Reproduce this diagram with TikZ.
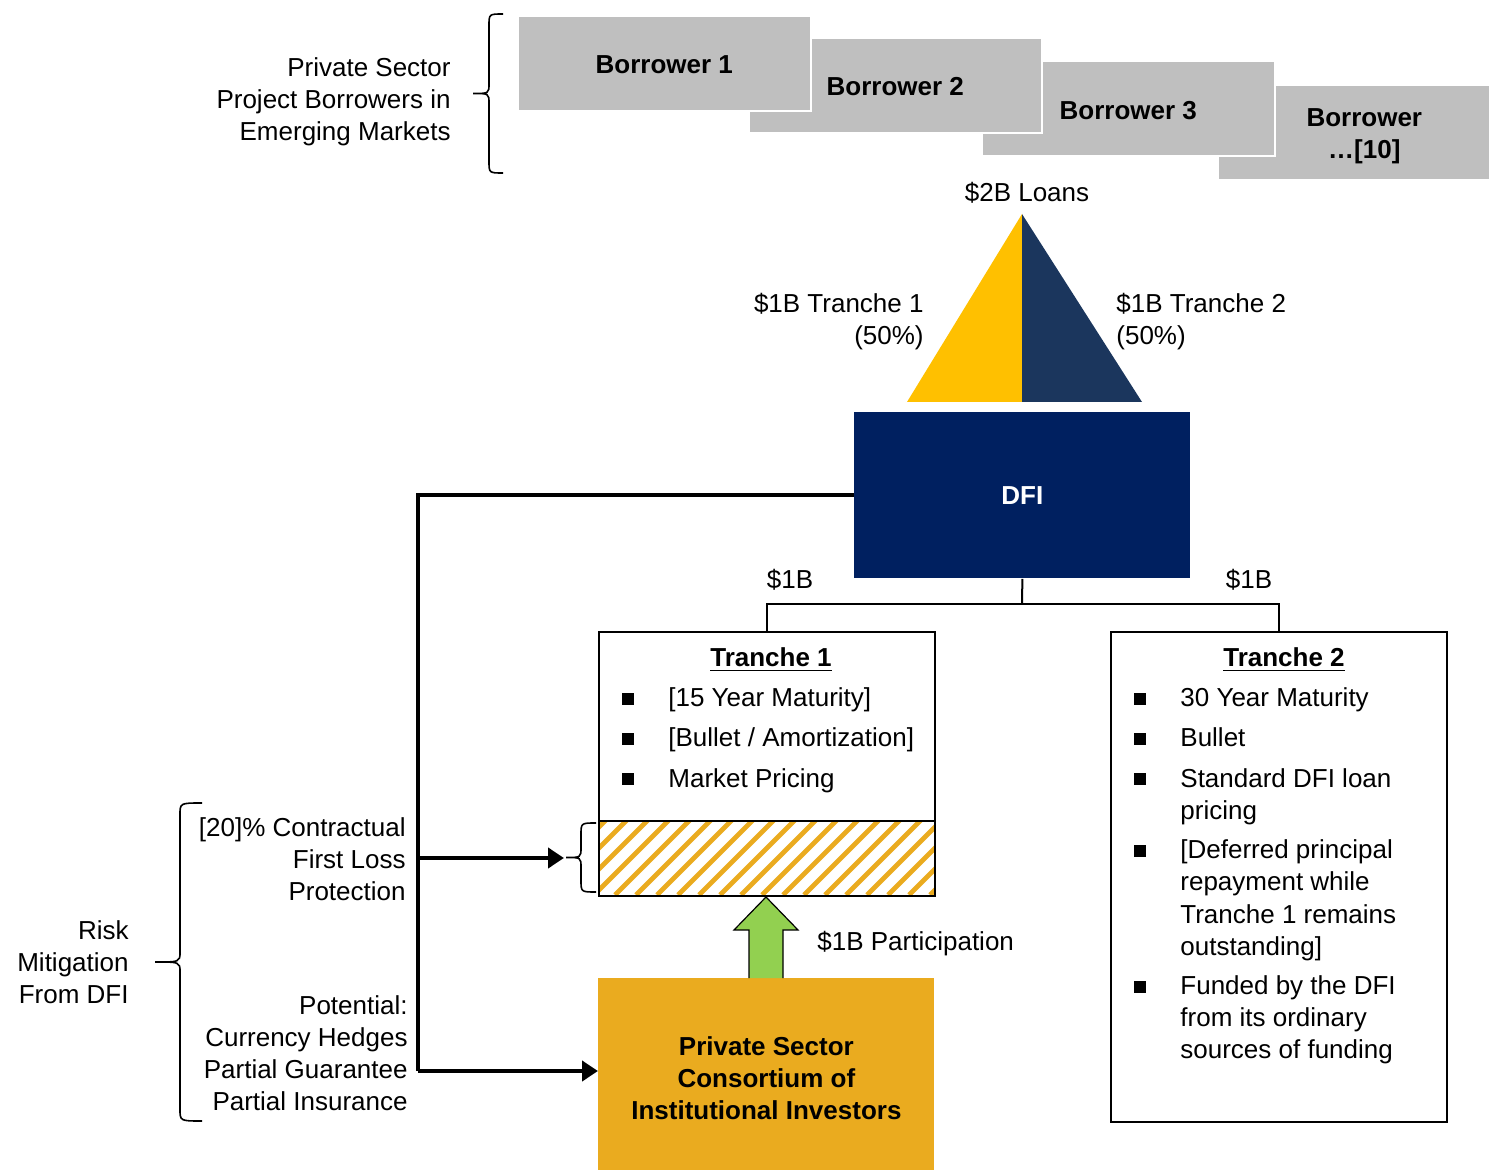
\documentclass[tikz,border=0pt]{standalone}
\usepackage{fontspec}
\setmainfont{Liberation Sans}
\usetikzlibrary{arrows.meta, calc}

\definecolor{boxgray}{HTML}{BFBFBF}
\definecolor{trgold}{HTML}{FFC000}
\definecolor{trnavy}{HTML}{1B365D}
\definecolor{dfiblue}{HTML}{002060}
\definecolor{consgold}{HTML}{EAAB1F}
\definecolor{partgreen}{HTML}{92D050}

\newcommand{\sqbul}{\rule[1pt]{6pt}{6pt}}
% left curly bracket: end x, line x, tip x, top y, bottom y
\newcommand{\leftbracket}[5]{%
    \draw[bracket] (#1,#4) .. controls (#2,#4) .. (#2,{#4+12})
        -- (#2,{(#4+#5)/2-10}) .. controls (#2,{(#4+#5)/2}) .. (#3,{(#4+#5)/2})
        .. controls (#2,{(#4+#5)/2}) .. (#2,{(#4+#5)/2+10})
        -- (#2,{#5-12}) .. controls (#2,#5) .. (#1,#5);}

\begin{document}
\begin{tikzpicture}[
    x=0.5pt, y=-0.5pt,
    font=\fontsize{13}{16}\selectfont,
    borrower/.style={fill=boxgray, draw=white, line width=0.8pt, anchor=north west,
        minimum width=146.5pt, minimum height=47.5pt, inner sep=0pt,
        font=\fontsize{13}{16}\selectfont\bfseries, align=center},
    txt/.style={inner sep=0pt},
    tranchebox/.style={draw=black, line width=1pt, anchor=north west, inner sep=0pt,
        minimum width=168pt},
    treeline/.style={line width=1pt},
    fatline/.style={line width=2pt},
    fatarrow/.style={line width=2pt, -{Triangle[length=8pt, width=10pt]}},
    bracket/.style={line width=0.8pt},
    hatchline/.style={consgold, line width=2.4pt},
]

\useasboundingbox (0,0) rectangle (1489,1170);

% =============================================================================
% Borrowers
% =============================================================================
\node[txt, anchor=east, align=right] (prjlabel) at (451,102)
    {Private Sector\\Project Borrowers in\\Emerging Markets};
\leftbracket{503}{489}{473}{14}{173}

\node[borrower] (bor4) at (1217,84) {\rule{0pt}{13.4pt}Borrower\\\ldots[10]};
\node[borrower] (bor3) at (981,60) {\rule{0pt}{11.4pt}Borrower 3};
\node[borrower] (bor2) at (748,37) {\rule{0pt}{10.4pt}Borrower 2};
\node[borrower] (bor1) at (517,15) {\rule{0pt}{10.4pt}Borrower 1};

% =============================================================================
% Loan split triangle
% =============================================================================
\coordinate (apex) at (1022,214);
\coordinate (baseL) at (907,402);
\coordinate (baseM) at (1022,402);
\coordinate (baseR) at (1142,402);
\fill[trgold] (apex) -- (baseL) -- (baseM) -- cycle;
\fill[trnavy] (apex) -- (baseM) -- (baseR) -- cycle;

\node[txt] (loans) at (1027,193) {\$2B Loans};
\node[txt, anchor=east, align=right] (tr1lab) at (924,322) {\$1B Tranche 1\\(50\%)};
\node[txt, anchor=west, align=left] (tr2lab) at (1116,322) {\$1B Tranche 2\\(50\%)};

% =============================================================================
% DFI and tranches
% =============================================================================
\node[fill=dfiblue, anchor=north west, minimum width=168pt, minimum height=83pt,
    inner sep=0pt, text=white, font=\fontsize{13}{16}\selectfont\bfseries] (dfi) at (854,412) {DFI};

% --- Hatched first loss slice ---
\begin{scope}
    \clip (598,820) rectangle (934,895);
    \foreach \x in {510,531,...,940} {
        \draw[hatchline] (\x,895) -- ++(75,-75);
    }
\end{scope}

\node[tranchebox, minimum height=132pt] (t1) at (598,631) {};
\node[tranchebox, minimum height=37.5pt] (t1risk) at (598,820) {};
\node[tranchebox, minimum height=245pt] (t2) at (1110,631) {};

\coordinate (split) at (1022,604);
\draw[treeline] (dfi.south) -- (split);
\draw[treeline] (t1.north) |- (split) -| (t2.north);
\node[txt] (amt1) at (790,580) {\$1B};
\node[txt] (amt2) at (1249,580) {\$1B};

% --- Tranche contents ---
\node[txt, anchor=base] (t1title) at (771,667) {\bfseries\underline{Tranche 1}};
\node[txt, anchor=base west] (t1list) at (622,707) {%
    \begin{tabular}[t]{@{}p{23pt}@{}l@{}}
    \sqbul & [15 Year Maturity]\\[4pt]
    \sqbul & [Bullet / Amortization]\\[4pt]
    \sqbul & Market Pricing
    \end{tabular}};

\node[txt, anchor=base] (t2title) at (1284,667) {\bfseries\underline{Tranche 2}};
\node[txt, anchor=base west] (t2list) at (1134,707) {%
    \begin{tabular}[t]{@{}p{23pt}@{}l@{}}
    \sqbul & 30 Year Maturity\\[4pt]
    \sqbul & Bullet\\[4pt]
    \sqbul & Standard DFI loan\\
           & pricing\\[4pt]
    \sqbul & [Deferred principal\\
           & repayment while\\
           & Tranche 1 remains\\
           & outstanding]\\[4pt]
    \sqbul & Funded by the DFI\\
           & from its ordinary\\
           & sources of funding
    \end{tabular}};

% =============================================================================
% Investors and risk mitigation
% =============================================================================
\node[fill=consgold, anchor=north west, minimum width=168pt, minimum height=100pt,
    inner sep=0pt, align=center, font=\fontsize{13}{16}\selectfont\bfseries] (cons) at (598,978)
    {Private Sector\\Consortium of\\Institutional Investors};

% --- Participation arrow ---
\filldraw[fill=partgreen, draw=black, line width=0.6pt]
    (749,978) -- (749,930) -- (734,930) -- (766,897) -- (798,930) -- (783,930) -- (783,978);
\node[txt, anchor=west] (partlab) at (817,944) {\$1B Participation};

% --- Lines from DFI ---
\coordinate (spinemid) at (418,858);
\coordinate (spinebot) at (418,1071);
\coordinate (brtip) at (564,858);
\draw[fatline] (dfi.west) -| (spinebot);
\draw[fatarrow] (spinemid) -- (brtip);
\draw[fatarrow] (spinebot) -- (spinebot -| cons.west);

\leftbracket{596}{581}{566}{823}{892}

% --- Risk mitigation labels ---
\node[txt, anchor=east, align=right] (firstloss) at (406,859)
    {[20]\% Contractual\\First Loss\\Protection};
\node[txt, anchor=east, align=right] (potential) at (408,1053)
    {Potential:\\Currency Hedges\\Partial Guarantee\\Partial Insurance};
\leftbracket{202}{180}{155}{803}{1121}
\node[txt, anchor=east, align=right] (risklab) at (129,962)
    {Risk\\Mitigation\\From DFI};

\end{tikzpicture}
\end{document}
